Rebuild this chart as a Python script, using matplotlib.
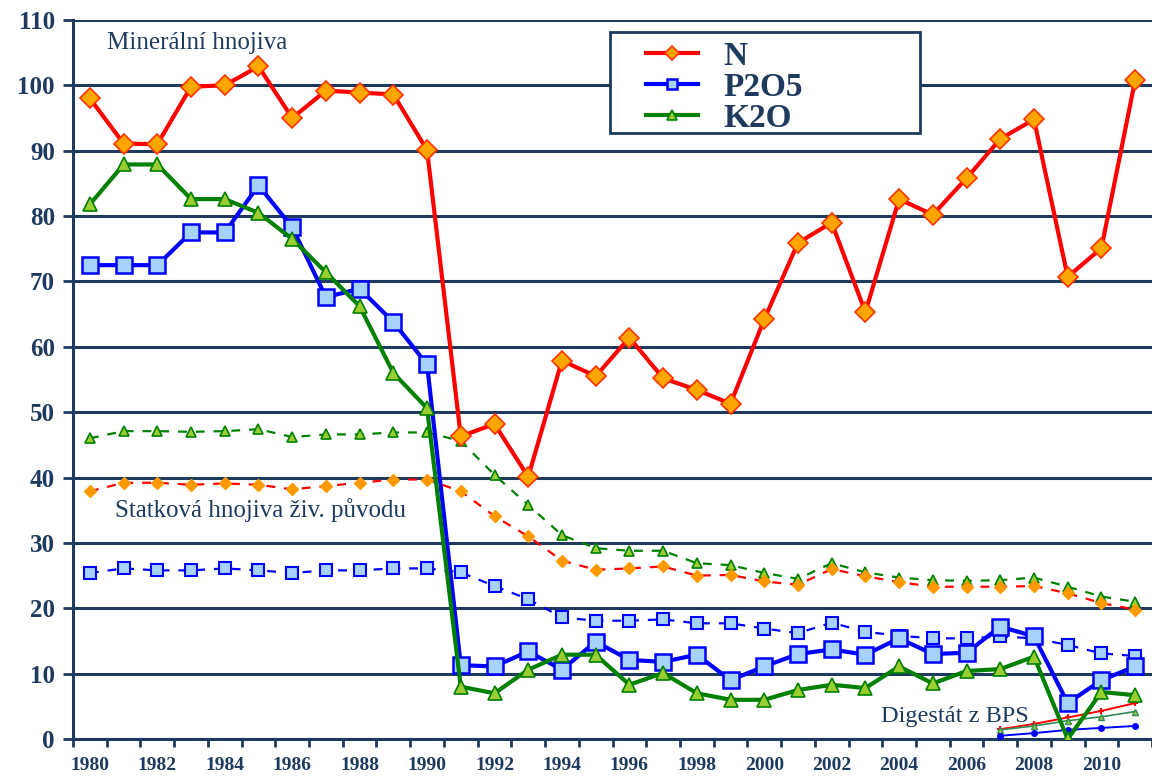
import numpy as np
import matplotlib.pyplot as plt
from matplotlib.patches import Rectangle

years = list(range(1980, 2012))

# Minerální hnojiva
n_min = [98.0, 91.1, 91.0, 99.8, 100.0, 102.9, 95.0, 99.2, 98.9, 98.6, 90.1,
         46.3, 48.2, 40.1, 57.9, 55.5, 61.4, 55.2, 53.4, 51.3, 64.2, 75.9,
         79.0, 65.3, 82.6, 80.2, 85.8, 91.8, 94.8, 70.7, 75.1, 100.8]
p_min = [72.5, 72.5, 72.5, 77.5, 77.5, 84.7, 78.3, 67.6, 68.9, 63.8, 57.3,
         11.3, 11.1, 13.4, 10.6, 14.9, 12.1, 11.8, 12.9, 9.0, 11.1, 13.0,
         13.7, 12.9, 15.4, 13.0, 13.2, 17.2, 15.7, 5.5, 9.0, 11.1]
k_min = [81.8, 87.9, 87.9, 82.6, 82.6, 80.5, 76.5, 71.4, 66.2, 56.0, 50.6,
         8.0, 7.0, 10.6, 12.9, 12.9, 8.3, 10.1, 7.0, 6.0, 6.0, 7.5,
         8.3, 7.8, 11.1, 8.5, 10.4, 10.7, 12.6, 0.0, 7.2, 6.7]

# Statková hnojiva živ. původu
n_stat = [37.9, 39.2, 39.2, 38.9, 39.1, 38.9, 38.2, 38.7, 39.2, 39.7, 39.7,
          37.9, 34.1, 31.0, 27.3, 25.9, 26.1, 26.4, 25.0, 25.1, 24.1, 23.6,
          26.0, 24.9, 24.0, 23.3, 23.3, 23.3, 23.4, 22.3, 20.8, 19.8]
p_stat = [25.4, 26.1, 25.8, 25.8, 26.1, 25.8, 25.4, 25.8, 25.8, 26.1, 26.1,
          25.5, 23.4, 21.4, 18.6, 18.1, 18.1, 18.3, 17.7, 17.7, 16.9, 16.2,
          17.8, 16.4, 15.8, 15.4, 15.4, 15.7, 15.4, 14.4, 13.1, 12.7]
k_stat = [46.0, 47.1, 47.1, 47.0, 47.1, 47.4, 46.2, 46.6, 46.6, 46.9, 46.9,
          45.6, 40.4, 35.8, 31.2, 29.2, 28.8, 28.8, 26.9, 26.6, 25.4, 24.5,
          26.9, 25.5, 24.7, 24.3, 24.2, 24.3, 24.7, 23.3, 21.8, 21.0]

# Digestát z BPS
dig_years = [2007, 2008, 2009, 2010, 2011]
n_dig = [1.5, 2.3, 3.3, 4.3, 5.5]
p_dig = [0.5, 0.9, 1.4, 1.7, 2.0]
k_dig = [1.4, 2.0, 2.8, 3.4, 4.2]

navy = '#1f3a5f'
serif = 'Liberation Serif'

fig = plt.figure(figsize=(11.52, 7.78), dpi=100)
ax = fig.add_axes([0.0634, 0.0501, 0.9366, 0.9242])

# statková hnojiva - dashed
ax.plot(years, k_stat, color='#008000', lw=1.6, ls=(0, (4, 4)), marker='^', ms=7,
        mfc='#9acd32', mec='#008000', mew=1.2, zorder=3)
ax.plot(years, n_stat, color='#ff0000', lw=1.6, ls=(0, (4, 4)), marker='D', ms=6,
        mfc='#ff9900', mec='#ff9900', zorder=3)
ax.plot(years, p_stat, color='#0000ff', lw=1.6, ls=(0, (4, 4)), marker='s', ms=8,
        mfc='#a6d2ff', mec='#0000ff', mew=1.5, zorder=3)

# digestát
ax.plot(dig_years, n_dig, color='#ff0000', lw=1.4, marker='+', ms=5, mew=1.5, zorder=3)
ax.plot(dig_years, k_dig, color='#2e8b57', lw=1.2, marker='^', ms=4, mfc='#9acd32', zorder=3)
ax.plot(dig_years, p_dig, color='#0000ff', lw=1.4, marker='o', ms=4, zorder=3)

# minerální hnojiva - solid
ax.plot(years, n_min, color='#ff0000', lw=3, marker='D', ms=10,
        mfc='#ffa500', mec='#ff3300', mew=1.2, zorder=5, label='N')
ax.plot(years, p_min, color='#0000ff', lw=3, marker='s', ms=11,
        mfc='#a6d2ff', mec='#0000ff', mew=1.8, zorder=4, label='P2O5')
ax.plot(years, k_min, color='#008000', lw=3, marker='^', ms=10,
        mfc='#9acd32', mec='#008000', mew=1.2, zorder=4, label='K2O')

ax.set_xlim(1979.5, 2011.32)
ax.set_ylim(0, 110)

ax.set_yticks(range(0, 111, 10))
ax.yaxis.grid(True, color=navy, lw=2.2)
ax.set_axisbelow(True)
ax.tick_params(axis='y', length=7, width=2, color=navy, pad=6)
for lab in ax.get_yticklabels():
    lab.set_fontfamily(serif)
    lab.set_fontweight('bold')
    lab.set_fontsize(18)
    lab.set_color(navy)

# ticks between categories, labels under every second year
ax.set_xticks(np.arange(1979.5, 2011.6, 1.0))
ax.set_xticklabels([])
ax.set_xticks(range(1980, 2011, 2), minor=True)
ax.set_xticklabels([str(y) for y in range(1980, 2011, 2)], minor=True,
                   fontfamily=serif, fontweight='bold', fontsize=14, color=navy)
ax.tick_params(axis='x', which='major', length=6, width=2, color=navy)
ax.tick_params(axis='x', which='minor', length=0, pad=13)

for s in ['top', 'right']:
    ax.spines[s].set_visible(False)
for s in ['left', 'bottom']:
    ax.spines[s].set_color(navy)
    ax.spines[s].set_linewidth(2.2)

ax.text(1980.5, 106.5, 'Minerální hnojiva', fontfamily=serif, fontsize=18,
        color=navy, ha='left', va='center')
ax.text(1980.74, 35.1, 'Statková hnojiva živ. původu', fontfamily=serif, fontsize=18,
        color=navy, ha='left', va='center')
ax.text(2003.45, 3.4, 'Digestát z BPS', fontfamily=serif, fontsize=17.5,
        color=navy, ha='left', va='center')

# legend box
ax.add_patch(Rectangle((0.4977, 0.843), 0.287, 0.14, transform=ax.transAxes,
                       facecolor='white', edgecolor=navy, lw=2, zorder=6))
leg = ax.legend(loc='upper left', bbox_to_anchor=(0.516, 0.994), frameon=False,
                borderpad=0, handlelength=1.55, handletextpad=0.75,
                labelspacing=0.0, prop={'family': serif, 'weight': 'bold', 'size': 24})
leg.set_zorder(7)
for t in leg.get_texts():
    t.set_color(navy)
for h in leg.legend_handles:
    h.set_markersize(7)

fig.savefig('out.png', dpi=100)
